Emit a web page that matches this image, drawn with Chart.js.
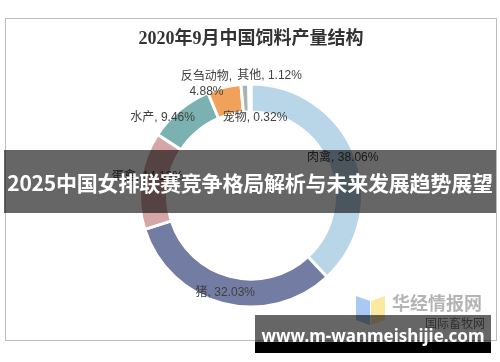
<!DOCTYPE html>
<html>
<head>
<meta charset="utf-8">
<script src="https://cdn.jsdelivr.net/npm/chart.js@4.4.1/dist/chart.umd.min.js"></script>
<style>
  html, body { margin: 0; padding: 0; background: #fff; }
  #wrap { position: relative; width: 500px; height: 362px; overflow: hidden; }
  #frame { position: absolute; left: 5px; top: 18px; width: 490px; height: 321px; border: 1px solid #bdbdbd; }
  #c { position: absolute; left: 0; top: 0; }
  #logo { position: absolute; left: 355px; top: 292px; width: 140px; height: 40px; }
  #logo .big { position: absolute; left: 37px; top: 0px; font: bold 18px "Noto Sans CJK SC", sans-serif; color: #b4b4b4; line-height: 20px; }
  #logo .small { position: absolute; left: 70px; top: 24px; font: 12px "Noto Sans CJK SC", sans-serif; color: #777; line-height: 14px; }
  #banner { position: absolute; left: 4px; top: 150px; width: 492px; height: 63px; background: rgba(0,0,0,0.6);
    color: #fff; font: bold 21px "Noto Sans CJK SC", sans-serif; text-align: center; line-height: 64px; white-space: nowrap; letter-spacing: -0.2px; }
  #wm { position: absolute; left: 255px; top: 315px; width: 236px; height: 27px; background: rgba(0,0,0,0.6); }
  #wmb { position: absolute; left: 255px; top: 342px; width: 236px; height: 11px; background: #000; }
  #wmt { position: absolute; left: 255px; top: 326px; width: 236px; text-align: center; color: #fff;
    font: bold 17px "Noto Sans", sans-serif; line-height: 20px; white-space: nowrap; }
</style>
</head>
<body>
<div id="wrap">
  <div id="frame"></div>
  <canvas id="c" width="500" height="362"></canvas>
  <div id="logo">
    <svg width="32" height="34" style="position:absolute;left:0;top:0">
      <polygon points="1,4 15,9 15,33 1,28" fill="#a9c9f2"/>
      <polygon points="16,9 30,4 30,28 16,33" fill="#fbe9a2"/>
    </svg>
    <div class="big">华经情报网</div>
    <div class="small">国际畜牧网</div>
  </div>
  <div id="banner">2025中国女排联赛竞争格局解析与未来发展趋势展望</div>
  <div id="wm"></div>
  <div id="wmb"></div>
  <div id="wmt">www.m-wanmeishijie.com</div>
</div>
<script>
const titleText = '2020年9月中国饲料产量结构';
const categories = ['肉禽', '猪', '蛋禽', '水产', '反刍动物', '其他', '宠物'];
const shares = [38.06, 32.03, 14.13, 9.46, 4.88, 1.12, 0.32];
const sliceColors = ['#b9d5e8', '#737ca2', '#d5a6a7', '#7bb1b1', '#f0a15a', '#aab2b3', '#d3e3ef'];

// label nudges from the ring centre of each slice, [dx, dy]
const labelNudge = [[1, -2], [-1, 3], [-7, -6], [-26, -3], [-21, -17], [24, -22], [5, 20]];
const wrapLabel = [false, false, false, false, true, false, false];

const sliceLabels = {
    id: 'sliceLabels',
    afterDatasetsDraw(chart) {
        const ctx = chart.ctx;
        const meta = chart.getDatasetMeta(0);
        ctx.save();
        ctx.font = '12px "Liberation Sans", "Noto Sans CJK SC", sans-serif';
        ctx.fillStyle = '#404040';
        ctx.textAlign = 'center';
        ctx.textBaseline = 'middle';
        meta.data.forEach(function (arc, i) {
            const p = arc.getProps(['x', 'y', 'startAngle', 'endAngle', 'innerRadius', 'outerRadius'], true);
            const mid = (p.startAngle + p.endAngle) / 2;
            const r = (p.innerRadius + p.outerRadius) / 2;
            const x = p.x + Math.cos(mid) * r + labelNudge[i][0];
            const y = p.y + Math.sin(mid) * r + labelNudge[i][1];
            const val = shares[i].toFixed(2) + '%';
            if (wrapLabel[i]) {
                ctx.fillText(categories[i] + ',', x, y - 7);
                ctx.fillText(val, x, y + 8);
            } else {
                ctx.fillText(categories[i] + ', ' + val, x, y);
            }
        });
        ctx.restore();
    }
};

new Chart(document.getElementById('c'), {
    type: 'doughnut',
    data: {
        labels: categories,
        datasets: [{
            data: shares,
            backgroundColor: sliceColors,
            borderColor: '#ffffff',
            borderWidth: 3,
            hoverBorderWidth: 3
        }]
    },
    options: {
        responsive: false,
        animation: false,
        devicePixelRatio: 1,
        cutout: '75%',
        layout: { padding: { top: 0, left: 2, right: 0, bottom: 53.5 } },
        plugins: {
            legend: { display: false },
            tooltip: { enabled: false },
            title: {
                display: true,
                text: titleText,
                color: '#333333',
                font: { size: 18, weight: 'bold', family: '"Liberation Serif", "Noto Sans CJK SC", serif' },
                padding: { top: 29, bottom: 32 }
            }
        }
    },
    plugins: [sliceLabels]
});
</script>
</body>
</html>
